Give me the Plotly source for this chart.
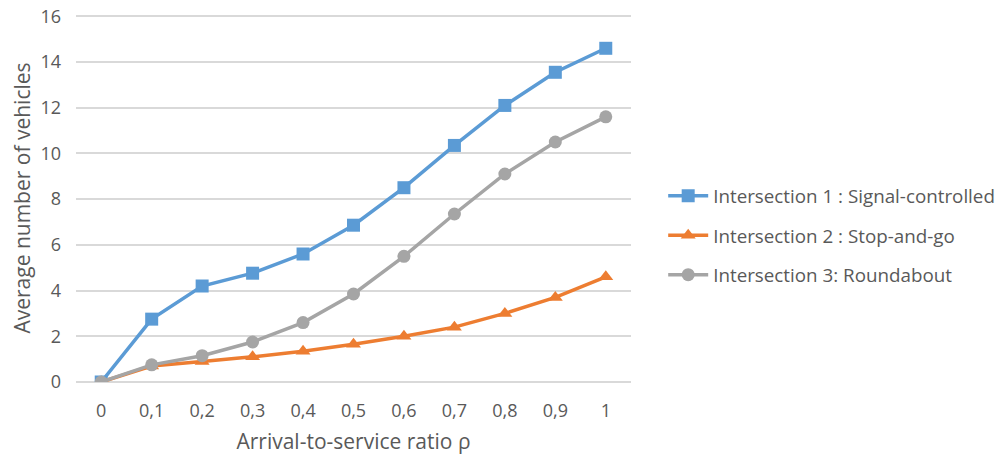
import plotly.graph_objects as go

# arrival-to-service ratio (category labels, comma decimals)
rho = ["0", "0,1", "0,2", "0,3", "0,4", "0,5", "0,6", "0,7", "0,8", "0,9", "1"]

signal_controlled = [0, 2.75, 4.2, 4.76, 5.6, 6.86, 8.5, 10.35, 12.1, 13.55, 14.6]
stop_and_go = [0, 0.7, 0.9, 1.1, 1.35, 1.65, 2.0, 2.4, 3.0, 3.7, 4.6]
roundabout = [0, 0.75, 1.15, 1.75, 2.6, 3.85, 5.5, 7.35, 9.1, 10.5, 11.6]

y_ticks = [0, 2, 4, 6, 8, 10, 12, 14, 16]

series = [
    ("Intersection 1 : Signal-controlled", signal_controlled, "#5B9BD5", "square"),
    ("Intersection 2 : Stop-and-go", stop_and_go, "#ED7D31", "triangle-up"),
    ("Intersection 3: Roundabout", roundabout, "#A5A5A5", "circle"),
]

fig = go.Figure()
for name, vals, col, sym in series:
    fig.add_trace(go.Scatter(
        x=rho, y=vals, name=name, mode="lines+markers",
        line=dict(color=col, width=3.5),
        marker=dict(symbol=sym, size=13, color=col),
        legendgroup=name,
    ))

font = "Open Sans, Liberation Sans, sans-serif"
fig.update_layout(
    width=1001, height=455,
    paper_bgcolor="white", plot_bgcolor="white",
    margin=dict(l=76, r=370, t=14, b=73, autoexpand=False),
    font=dict(family=font, color="#595959", size=18),
    xaxis=dict(
        type="category", range=[-0.5, 10.5], automargin=False,
        showgrid=False, showline=False, ticks="", ticklabelstandoff=16,
        title=dict(text="Arrival-to-service ratio ρ", font=dict(size=21), standoff=13),
    ),
    yaxis=dict(
        range=[0, 16.1], tickvals=y_ticks, automargin=False,
        gridcolor="#D9D9D9", gridwidth=2,
        zeroline=True, zerolinecolor="#D9D9D9", zerolinewidth=2,
        showline=False, ticks="", ticklabelstandoff=14,
        title=dict(text="Average number of vehicles", font=dict(size=21), standoff=4),
    ),
    legend=dict(
        x=1.058, xanchor="left", y=0.398, yanchor="middle",
        font=dict(size=18.8), tracegroupgap=12, itemwidth=40,
    ),
)

# drop the default 8px body margin so the figure sits at the page corner
fig.write_html("out.html", config={"displayModeBar": False},
               post_script="document.body.style.margin='0';")
